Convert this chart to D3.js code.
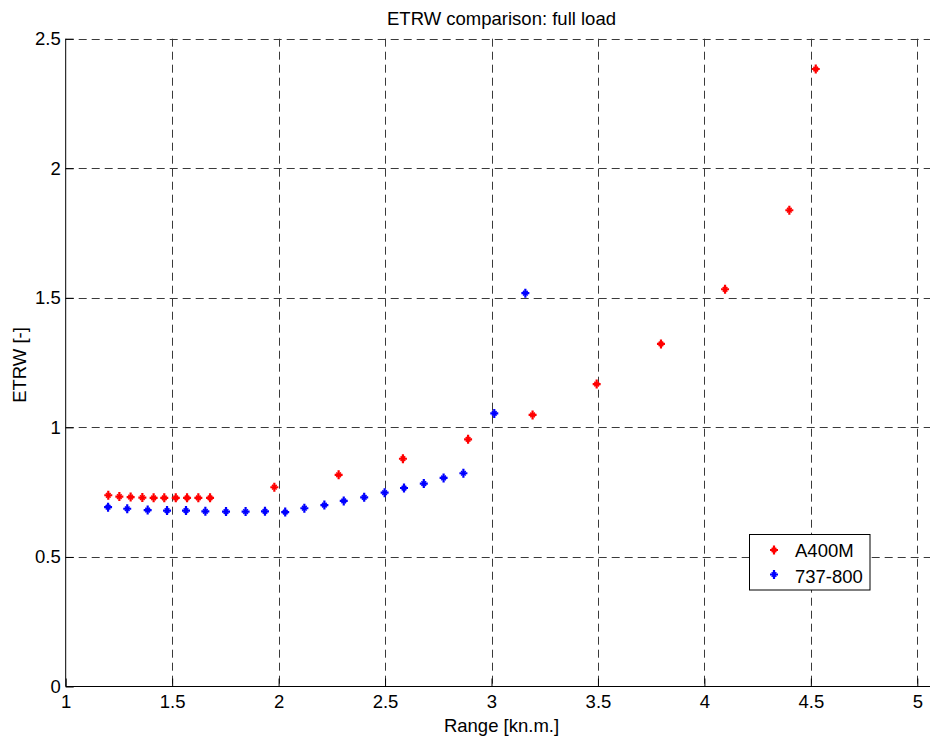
<!DOCTYPE html>
<html>
<head>
<meta charset="utf-8">
<script src="https://cdn.jsdelivr.net/npm/d3@7"></script>
<style>
html,body{margin:0;padding:0;background:#fff;}
svg{display:block;font-family:Arial,"Liberation Sans",Helvetica,sans-serif;}
</style>
</head>
<body>
<svg id="chart" width="930" height="738"></svg>
<script>
const titleText = "ETRW comparison: full load";
const xLabel = "Range [kn.m.]";
const yLabel = "ETRW [-]";
const seriesNames = ["A400M", "737-800"];
const seriesColors = ["#ff0000", "#0000ff"];

const a400mX = [1.200,1.252,1.305,1.360,1.413,1.463,1.517,1.570,1.623,1.678,1.980,2.282,2.584,2.890,3.193,3.494,3.796,4.097,4.399,4.523];
const a400mY = [0.738,0.733,0.731,0.729,0.728,0.728,0.728,0.728,0.728,0.728,0.769,0.817,0.879,0.954,1.048,1.167,1.322,1.533,1.838,2.383];

const b737X = [1.199,1.289,1.385,1.476,1.565,1.656,1.753,1.845,1.936,2.031,2.121,2.215,2.306,2.402,2.498,2.589,2.682,2.775,2.868,3.013,3.159];
const b737Y = [0.692,0.686,0.681,0.679,0.679,0.676,0.675,0.675,0.676,0.673,0.688,0.700,0.716,0.730,0.748,0.766,0.783,0.805,0.823,1.054,1.518];

const xTicks = [1,1.5,2,2.5,3,3.5,4,4.5,5];
const yTicks = [0,0.5,1,1.5,2,2.5];

(function(){
const svg = d3.select("#chart");
const pLeft = 65.7, pRight = 917.3, pTop = 38.7, pBottom = 686.5, pEdge = 930;
const fs = 18.5;

const x = d3.scaleLinear().domain([1,5]).range([pLeft,pRight]);
const y = d3.scaleLinear().domain([0,2.5]).range([pBottom,pTop]);

// grid
const grid = svg.append("g").attr("stroke","#3a3a3a").attr("stroke-width",1).attr("stroke-dasharray","8,5");
grid.selectAll("line.v").data(xTicks.slice(1)).enter().append("line")
  .attr("x1",d=>Math.round(x(d))+0.5).attr("x2",d=>Math.round(x(d))+0.5)
  .attr("y1",pTop).attr("y2",pBottom);
grid.selectAll("line.h").data(yTicks.slice(1)).enter().append("line")
  .attr("x1",pLeft).attr("x2",pEdge)
  .attr("y1",d=>Math.round(y(d))+0.5).attr("y2",d=>Math.round(y(d))+0.5);

// axes with inward ticks
const xAxis = d3.axisBottom(x).tickValues(xTicks).tickSize(-8).tickPadding(8).tickFormat(d3.format("~g"));
const yAxis = d3.axisLeft(y).tickValues(yTicks).tickSize(-8).tickPadding(5).tickFormat(d3.format("~g"));

const gx = svg.append("g").attr("transform",`translate(0,${pBottom})`).call(xAxis);
const gy = svg.append("g").attr("transform",`translate(${pLeft},0)`).call(yAxis);
[gx,gy].forEach(g=>{
  g.select(".domain").remove();
  g.selectAll(".tick line").attr("stroke","#000");
  g.selectAll(".tick text").attr("fill","#000").attr("font-size",fs).attr("font-family","Arial,'Liberation Sans',sans-serif");
});
gx.selectAll(".tick text").attr("dy","0.71em");
// axis lines
svg.append("line").attr("x1",pLeft).attr("x2",pEdge).attr("y1",pBottom).attr("y2",pBottom).attr("stroke","#000").attr("stroke-width",1);
svg.append("line").attr("x1",pLeft).attr("x2",pLeft).attr("y1",pTop).attr("y2",pBottom).attr("stroke","#000").attr("stroke-width",1);

// markers
function marker(g, cx, cy, color){
  const m = g.append("g").attr("transform",`translate(${cx},${cy})`).attr("stroke",color).attr("fill","none");
  m.append("path").attr("d","M-4,0H4M0,-4.5V4.5").attr("stroke-width",2.2);
  m.append("path").attr("d","M-2.3,-2.3L2.3,2.3M-2.3,2.3L2.3,-2.3").attr("stroke-width",1.6);
}
const pts = svg.append("g");
a400mX.forEach((d,i)=>marker(pts, x(d), y(a400mY[i]), seriesColors[0]));
b737X.forEach((d,i)=>marker(pts, x(d), y(b737Y[i]), seriesColors[1]));

// title and labels
svg.append("text").attr("x",(pLeft+pRight)/2+10).attr("y",25).attr("text-anchor","middle")
  .attr("font-size",fs).attr("fill","#000").text(titleText);
svg.append("text").attr("x",(pLeft+pRight)/2+10).attr("y",732).attr("text-anchor","middle")
  .attr("font-size",fs).attr("fill","#000").text(xLabel);
svg.append("text").attr("transform","translate(26,365) rotate(-90)").attr("text-anchor","middle")
  .attr("font-size",fs).attr("fill","#000").text(yLabel);

// legend
const lg = svg.append("g");
lg.append("rect").attr("x",749.5).attr("y",534.5).attr("width",120.5).attr("height",55.5)
  .attr("fill","#fff").attr("stroke","#000").attr("stroke-width",1);
seriesNames.forEach((n,i)=>{
  marker(lg, 774, 550 + i*24.5, seriesColors[i]);
  lg.append("text").attr("x",795).attr("y",556.5 + i*26.5).attr("font-size",fs).attr("fill","#000").text(n);
});
})();
</script>
</body>
</html>
